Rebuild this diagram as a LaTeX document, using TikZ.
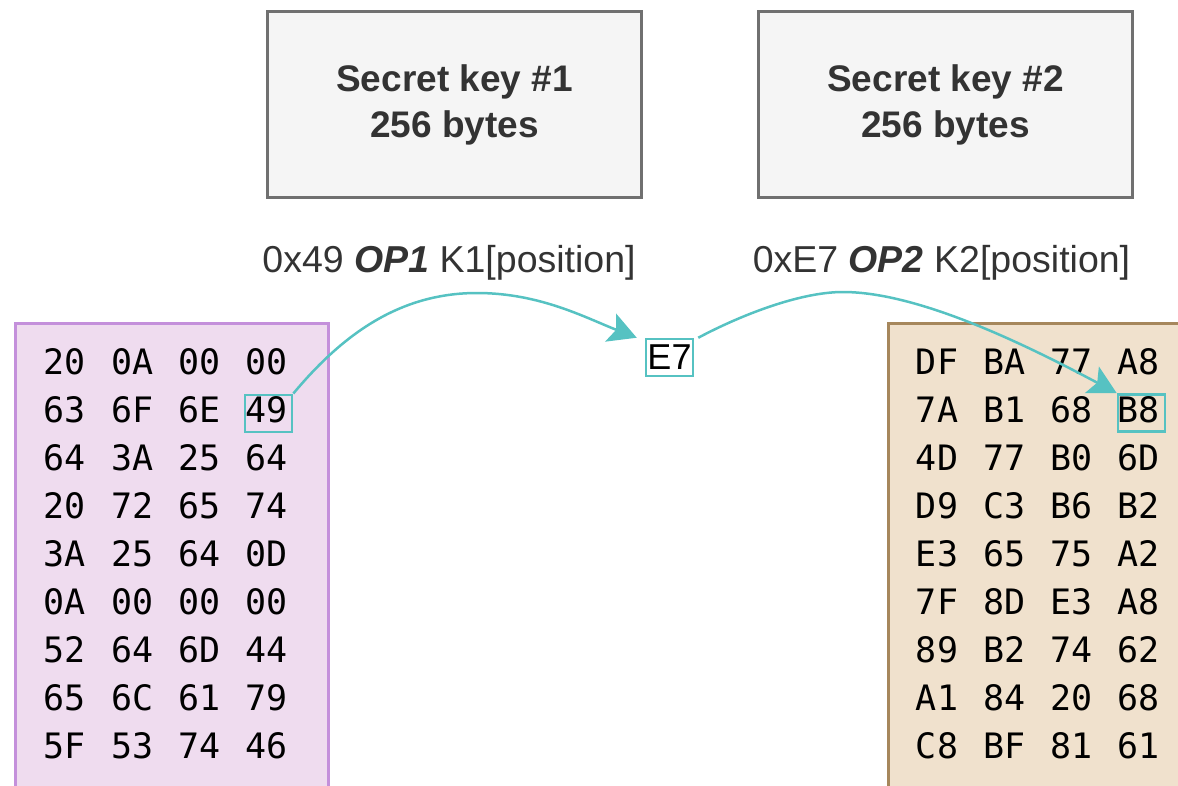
\documentclass[tikz,border=0pt]{standalone}
\usepackage{fontspec}
\setmainfont{Liberation Sans}
\newfontfamily\hexfont{DejaVu Sans Mono}
\usetikzlibrary{arrows.meta}

\definecolor{keyfill}{HTML}{F5F5F5}
\definecolor{keyline}{HTML}{707070}
\definecolor{ink}{HTML}{333333}
\definecolor{plainfill}{HTML}{EFDCEF}
\definecolor{plainline}{HTML}{C490DB}
\definecolor{cipherfill}{HTML}{F0E1CD}
\definecolor{cipherline}{HTML}{A6875C}
\definecolor{flow}{HTML}{56C2C2}

\tikzset{
  keybox/.style={draw=keyline, fill=keyfill, line width=2.5pt, minimum width=374pt,
    minimum height=186pt, inner sep=0pt, align=center, text=ink,
    font=\bfseries\fontsize{37}{46}\selectfont},
  oplabel/.style={anchor=base, inner sep=0pt, text=ink, font=\fontsize{37.5}{43}\selectfont},
  panel/.style={anchor=north west, line width=2.5pt, inner sep=0pt, minimum height=480pt},
  hex/.style={anchor=base, inner sep=0pt, font=\hexfont\fontsize{35}{40}\selectfont},
  hl/.style={draw=flow, line width=2.5pt, minimum width=47pt, minimum height=37pt, inner sep=0pt},
  flowarrow/.style={draw=flow, line width=2.5pt, -{Stealth[length=28pt,width=30pt,inset=6pt]}}
}

\begin{document}
\begin{tikzpicture}[x=1pt,y=-1pt]
\useasboundingbox (0,0) rectangle (1178,785);
\clip (0,0) rectangle (1178,785);

% key boxes
\node[keybox] (key1) at (454.5,104.5) {Secret key \#1\\256 bytes};
\node[keybox] (key2) at (945.5,104.5) {Secret key \#2\\256 bytes};

% operation labels
\node[oplabel] (op1) at (449,272) {0x49 \textbf{\textit{OP1}} K1[position]};
\node[oplabel] (op2) at (941.5,272) {0xE7 \textbf{\textit{OP2}} K2[position]};

% memory panels
\node[panel, draw=plainline, fill=plainfill, minimum width=313pt] (plain) at (14,322) {};
\node[panel, draw=cipherline, fill=cipherfill, minimum width=330pt] (cipher) at (887,322) {};

% plaintext bytes
\foreach \row [count=\r] in {{20,0A,00,00},{63,6F,6E,49},{64,3A,25,64},{20,72,65,74},
    {3A,25,64,0D},{0A,00,00,00},{52,64,6D,44},{65,6C,61,79},{5F,53,74,46}} {
  \foreach \cell [count=\c] in \row {
    \node[hex] (L-\r-\c) at ({65+67.2*(\c-1)},{374.5+48*(\r-1)}) {\cell};
  }
}

% ciphertext bytes
\foreach \row [count=\r] in {{DF,BA,77,A8},{7A,B1,68,B8},{4D,77,B0,6D},{D9,C3,B6,B2},
    {E3,65,75,A2},{7F,8D,E3,A8},{89,B2,74,62},{A1,84,20,68},{C8,BF,81,61}} {
  \foreach \cell [count=\c] in \row {
    \node[hex] (R-\r-\c) at ({937+67.3*(\c-1)},{374.5+48*(\r-1)}) {\cell};
  }
}

% highlighted cells and intermediate byte
\node[hl, xshift=2pt, yshift=-3.5pt] (k1cell) at (L-2-4.center) {};
\node[hl, xshift=2.5pt, yshift=-3pt] (b8cell) at (R-2-4.center) {};
\node[hl, font=\fontsize{36}{36}\selectfont] (e7) at (669.5,357.5) {E7};

% data flow
\draw[flowarrow] (k1cell.north east) .. controls (343,334) and (400,293) .. (477,293)
  .. controls (540,293) and (586,318) .. ([xshift=-8pt]e7.north west);
\draw[flowarrow] ([xshift=4pt]e7.north east) .. controls (741,315) and (800,292) .. (843,292)
  .. controls (920,292) and (1030,347) .. (b8cell.north west);
\end{tikzpicture}
\end{document}
